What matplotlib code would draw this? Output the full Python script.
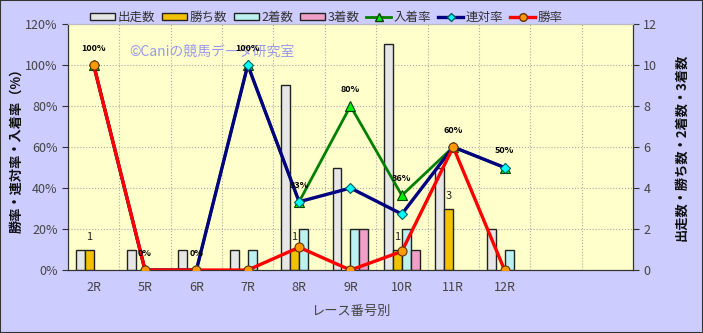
import numpy as np
import matplotlib
matplotlib.use('Agg')
import matplotlib.pyplot as plt
from matplotlib.lines import Line2D
from matplotlib.patches import Patch

plt.rcParams['font.family'] = ['Noto Sans CJK JP', 'DejaVu Sans']

# データ
races = ['2R', '5R', '6R', '7R', '8R', '9R', '10R', '11R', '12R']
n_slots = 11  # 右側に空きスロットが2つある

runners = [1, 1, 1, 1, 9, 5, 11, 5, 2]      # 出走数
wins = [1, 0, 0, 0, 1, 0, 1, 3, 0]          # 勝ち数
seconds = [0, 0, 0, 1, 2, 2, 2, 0, 1]       # 2着数
thirds = [0, 0, 0, 0, 0, 2, 1, 0, 0]        # 3着数

win_rate = [100, 0, 0, 0, 11.1, 0, 9.1, 60, 0]           # 勝率
rentai_rate = [100, 0, 0, 100, 33.3, 40, 27.3, 60, 50]    # 連対率
place_rate = [100, 0, 0, 100, 33.3, 80, 36.4, 60, 50]     # 入着率

x = np.arange(len(races))
w = 0.175

fig = plt.figure(figsize=(7.03, 3.33), dpi=100, facecolor='#ccccff')
fig.patches.append(plt.Rectangle((0, 0), 1, 1, transform=fig.transFigure,
                                 fill=False, edgecolor='#333333', lw=1.5))

# 棒グラフは ax(右軸の目盛り)、折れ線は ax2(左軸の目盛り)
ax = fig.add_axes([0.0967, 0.189, 0.8037, 0.739])
ax.set_facecolor('#ffffcc')
ax2 = ax.twinx()


def draw_bars(offset, values, color, label):
    # 0 の棒は描かない
    vals = np.array(values, dtype=float)
    keep = vals > 0
    ax.bar(x[keep] + offset, vals[keep], width=w, color=color, edgecolor='#222222',
           linewidth=1.0, zorder=3, label=label)


draw_bars(-1.5 * w, runners, '#e6e6e6', '出走数')
draw_bars(-0.5 * w, wins, '#f2c200', '勝ち数')
draw_bars(0.5 * w, seconds, '#bdf0f0', '2着数')
draw_bars(1.5 * w, thirds, '#f0a0c8', '3着数')

for xi, v in zip(x, wins):
    if v > 0:
        ax.annotate(str(v), (xi - 0.5 * w, v), xytext=(0, 9), textcoords='offset points',
                    ha='center', va='center', fontsize=8, color='#222222')

ax2.plot(x, place_rate, color='#008000', lw=2, marker='^', ms=7,
         mfc='#00ee00', mec='#004000', mew=0.8, label='入着率', zorder=4)
ax2.plot(x, rentai_rate, color='#000080', lw=2.4, marker='D', ms=5,
         mfc='#00ffff', mec='#006060', mew=0.8, label='連対率', zorder=5)
ax2.plot(x, win_rate, color='#ff0000', lw=2.4, marker='o', ms=6.5,
         mfc='#ff9900', mec='#663300', mew=0.8, label='勝率', zorder=6)

for xi, v in zip(x, place_rate):
    ax2.annotate('%d%%' % round(v), (xi, v), xytext=(0, 12), textcoords='offset points',
                 ha='center', va='center', fontsize=6.5, fontweight='bold', color='black', zorder=7)

ax.set_xlim(-0.5, n_slots - 0.5)
ax.set_ylim(0, 12)
ax2.set_ylim(0, 120)
ax.set_xticks(x)
ax.set_xticklabels(races)
ax.set_xticks(np.arange(n_slots + 1) - 0.5, minor=True)
ax.tick_params(axis='x', which='major', length=0, pad=8, labelsize=9, labelcolor='#444444')
ax.tick_params(axis='x', which='minor', length=0)
ax.grid(True, which='minor', axis='x', color='#aaaaaa', ls=':', lw=0.8, zorder=0)

# 目盛りの左右を入れ替え
ax.yaxis.tick_right()
ax.yaxis.set_label_position('right')
ax2.yaxis.tick_left()
ax2.yaxis.set_label_position('left')
ax.set_yticks(np.arange(0, 13, 2))
ax2.set_yticks(np.arange(0, 121, 20))
ax2.set_yticklabels(['%d%%' % t for t in range(0, 121, 20)])
ax.tick_params(axis='y', labelsize=9, labelcolor='#444444', length=4, color='#333333')
ax2.tick_params(axis='y', labelsize=9, labelcolor='#444444', length=4, color='#333333')
ax.grid(True, which='major', axis='y', color='#aaaaaa', ls=':', lw=0.8, zorder=0)

for a in (ax, ax2):
    a.spines['top'].set_color('#bbbbbb')
    a.spines['left'].set_color('#333333')
    a.spines['right'].set_color('#333333')
    a.spines['bottom'].set_color('#333333')
ax2.patch.set_visible(False)

ax2.set_ylabel('勝率・連対率・入着率（%）', fontsize=9.5, color='#111111', labelpad=1,
               fontweight='bold')
ax.set_ylabel('出走数・勝ち数・2着数・3着数', fontsize=9.5, color='#111111', labelpad=12,
              rotation=90, fontweight='bold')
ax.set_xlabel('レース番号別', fontsize=9.5, color='#444444', labelpad=8)

ax.text(0.255, 0.885, '©Caniの競馬データ研究室', transform=ax.transAxes, ha='center',
        va='center', fontsize=10, color='#9999ee', zorder=2)

handles = [
    Patch(facecolor='#e6e6e6', edgecolor='#222222', label='出走数'),
    Patch(facecolor='#f2c200', edgecolor='#222222', label='勝ち数'),
    Patch(facecolor='#bdf0f0', edgecolor='#222222', label='2着数'),
    Patch(facecolor='#f0a0c8', edgecolor='#222222', label='3着数'),
    Line2D([], [], color='#008000', lw=2, marker='^', ms=6, mfc='#00ee00', mec='#004000', label='入着率'),
    Line2D([], [], color='#000080', lw=2.4, marker='D', ms=4, mfc='#00ffff', mec='#006060', label='連対率'),
    Line2D([], [], color='#ff0000', lw=2.4, marker='o', ms=5.5, mfc='#ff9900', mec='#663300', label='勝率'),
]
fig.legend(handles=handles, loc='center', bbox_to_anchor=(0.464, 0.948), ncol=7, frameon=False,
           fontsize=9, handlelength=2.0, handleheight=0.5, handletextpad=0.2, columnspacing=0.55,
           labelcolor='#333333')

fig.savefig('out.png', dpi=100, facecolor=fig.get_facecolor())
